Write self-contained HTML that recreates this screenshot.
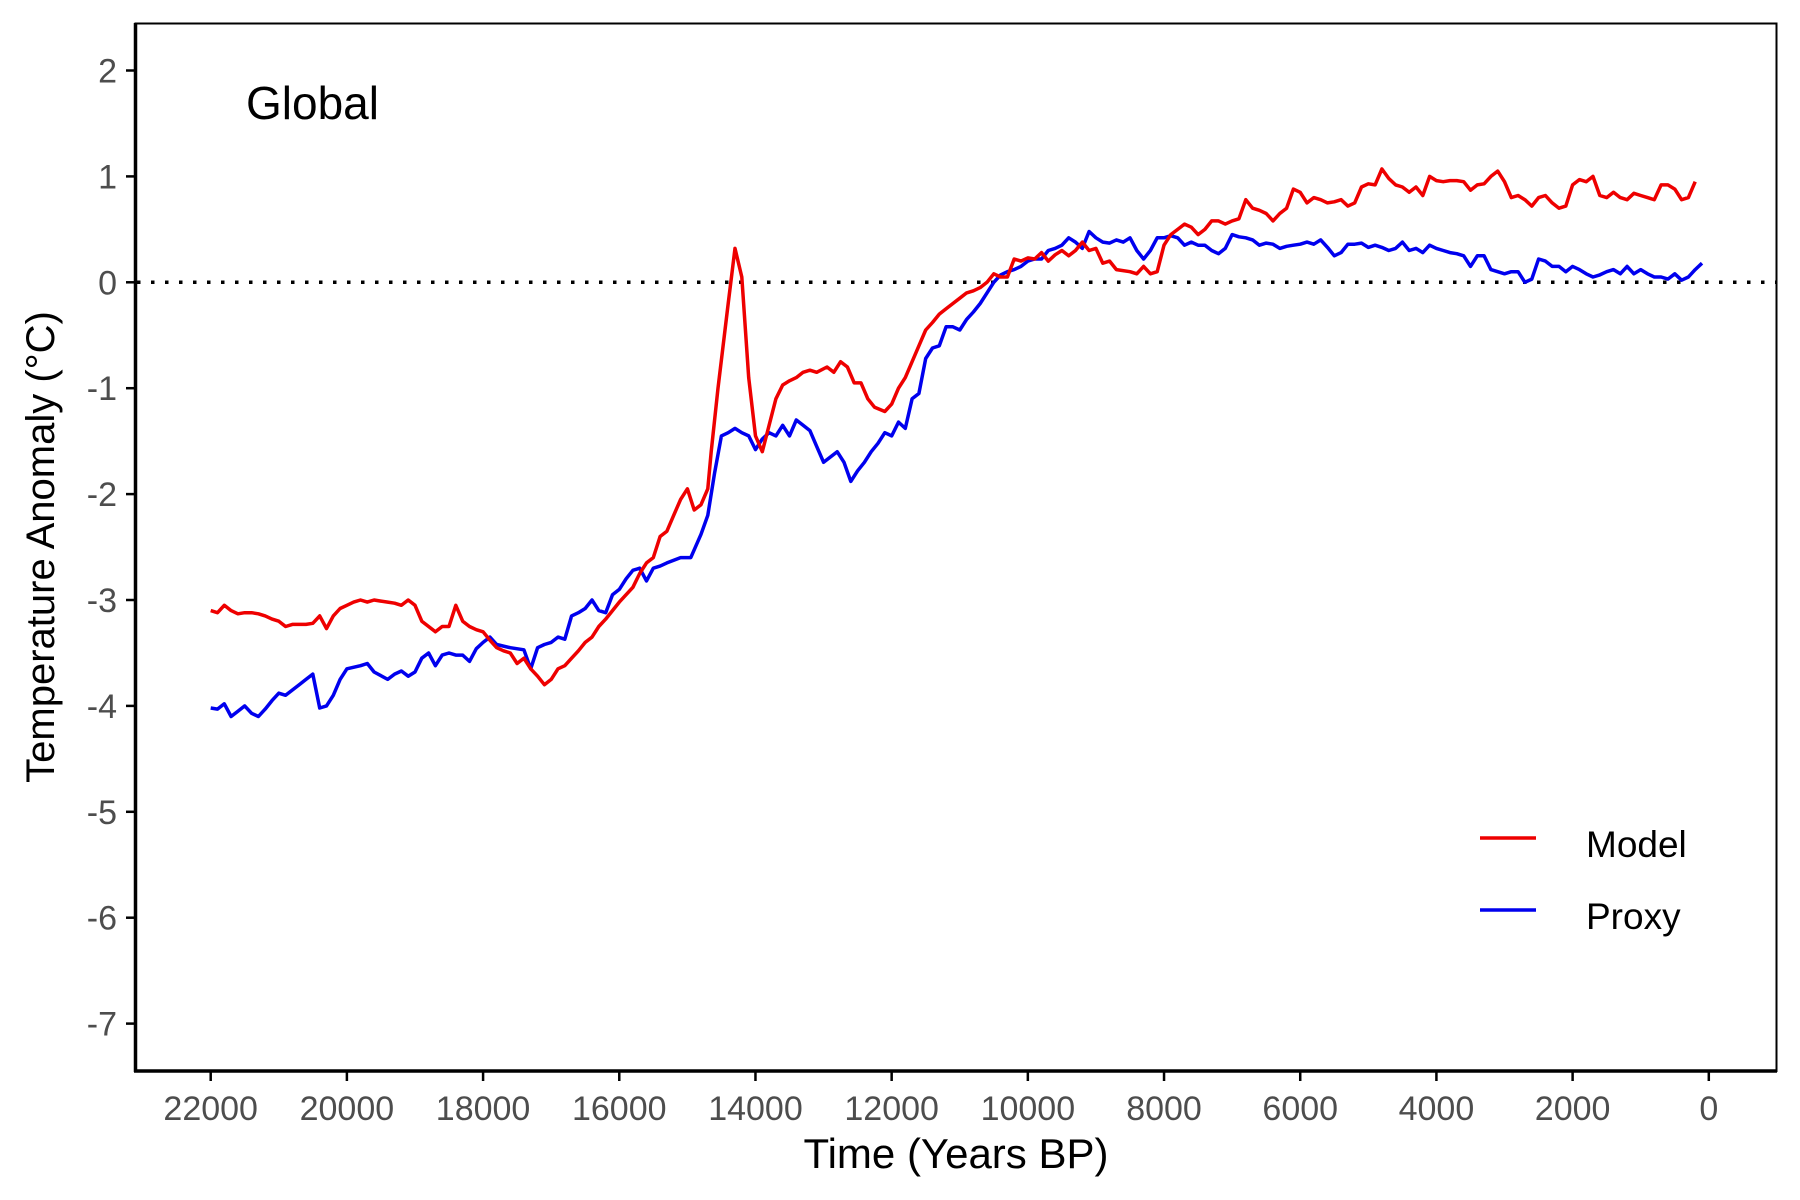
<!DOCTYPE html>
<html><head><meta charset="utf-8">
<style>
html,body{margin:0;padding:0;background:#fff;}
svg{display:block;font-family:"Liberation Sans",Arial,sans-serif;}
</style></head>
<body>
<svg id="chart" width="1800" height="1200" viewBox="0 0 1800 1200" xmlns="http://www.w3.org/2000/svg">
<rect x="0" y="0" width="1800" height="1200" fill="#fff"/>
<g id="grid"></g>
<g id="series"></g>
<rect x="135.5" y="23.5" width="1641" height="1047.5" fill="none" stroke="#000" stroke-width="2"/>
<line x1="135.5" y1="23" x2="135.5" y2="1072" stroke="#000" stroke-width="3.5"/>
<line x1="134" y1="1071" x2="1777" y2="1071" stroke="#000" stroke-width="3.5"/>
<g id="axes"></g>
<text x="246" y="119" font-size="46" fill="#000">Global</text>
<text transform="translate(54,547) rotate(-90)" text-anchor="middle" font-size="40" fill="#000">Temperature Anomaly (°C)</text>
<text x="956" y="1168" text-anchor="middle" font-size="42" fill="#000">Time (Years BP)</text>
<g>
<line x1="1480" y1="838" x2="1536" y2="838" stroke="#ee0000" stroke-width="3.5"/>
<text x="1586" y="857" font-size="37" fill="#000">Model</text>
<line x1="1480" y1="910" x2="1536" y2="910" stroke="#0000ee" stroke-width="3.5"/>
<text x="1586" y="929" font-size="37" fill="#000">Proxy</text>
</g>
</svg>
<script>
const xTicks = [22000,20000,18000,16000,14000,12000,10000,8000,6000,4000,2000,0];
const yTicks = [2,1,0,-1,-2,-3,-4,-5,-6,-7];
const modelYears = [22000,21900,21800,21700,21600,21500,21400,21300,21200,21100,21000,20900,20800,20700,20600,20500,20400,20300,20200,20100,20000,19900,19800,19700,19600,19500,19400,19300,19200,19100,19000,18900,18800,18700,18600,18500,18400,18300,18200,18100,18000,17900,17800,17700,17600,17500,17400,17300,17200,17100,17000,16900,16800,16700,16600,16500,16400,16300,16200,16100,16000,15900,15800,15700,15600,15500,15400,15300,15200,15100,15000,14900,14800,14700,14650,14550,14400,14300,14200,14100,14000,13900,13800,13700,13600,13500,13400,13300,13200,13100,12950,12850,12750,12650,12550,12450,12350,12250,12100,12000,11900,11800,11700,11600,11500,11400,11300,11200,11100,11000,10900,10800,10700,10600,10500,10400,10300,10200,10100,10000,9900,9800,9700,9600,9500,9400,9300,9200,9100,9000,8900,8800,8700,8500,8400,8300,8200,8100,8000,7900,7800,7700,7600,7500,7400,7300,7200,7100,7000,6900,6800,6700,6600,6500,6400,6300,6200,6100,6000,5900,5800,5700,5600,5500,5400,5300,5200,5100,5000,4900,4800,4700,4600,4500,4400,4300,4200,4100,4000,3900,3800,3700,3600,3500,3400,3300,3200,3100,3000,2900,2800,2700,2600,2500,2400,2300,2200,2100,2000,1900,1800,1700,1600,1500,1400,1300,1200,1100,1000,900,800,700,600,500,400,300,200,100];
const modelValues = [-3.1,-3.12,-3.05,-3.1,-3.13,-3.12,-3.12,-3.13,-3.15,-3.18,-3.2,-3.25,-3.23,-3.23,-3.23,-3.22,-3.15,-3.27,-3.15,-3.08,-3.05,-3.02,-3.0,-3.02,-3.0,-3.01,-3.02,-3.03,-3.05,-3.0,-3.05,-3.2,-3.25,-3.3,-3.25,-3.25,-3.05,-3.2,-3.25,-3.28,-3.3,-3.38,-3.45,-3.48,-3.5,-3.6,-3.55,-3.65,-3.72,-3.8,-3.75,-3.65,-3.62,-3.55,-3.48,-3.4,-3.35,-3.25,-3.18,-3.1,-3.02,-2.95,-2.88,-2.75,-2.65,-2.6,-2.4,-2.35,-2.2,-2.05,-1.95,-2.15,-2.1,-1.95,-1.6,-1.0,-0.2,0.32,0.05,-0.9,-1.45,-1.6,-1.35,-1.1,-0.97,-0.93,-0.9,-0.85,-0.83,-0.85,-0.8,-0.85,-0.75,-0.8,-0.95,-0.95,-1.1,-1.18,-1.22,-1.15,-1.0,-0.9,-0.75,-0.6,-0.45,-0.38,-0.3,-0.25,-0.2,-0.15,-0.1,-0.08,-0.05,0.0,0.08,0.05,0.05,0.22,0.2,0.23,0.22,0.28,0.2,0.26,0.3,0.25,0.3,0.38,0.3,0.32,0.18,0.2,0.12,0.1,0.08,0.15,0.08,0.1,0.35,0.45,0.5,0.55,0.52,0.45,0.5,0.58,0.58,0.55,0.58,0.6,0.78,0.7,0.68,0.65,0.58,0.65,0.7,0.88,0.85,0.75,0.8,0.78,0.75,0.76,0.78,0.72,0.75,0.9,0.93,0.92,1.07,0.98,0.92,0.9,0.85,0.9,0.82,1.0,0.96,0.95,0.96,0.96,0.95,0.87,0.92,0.93,1.0,1.05,0.95,0.8,0.82,0.78,0.72,0.8,0.82,0.75,0.7,0.72,0.92,0.97,0.95,1.0,0.82,0.8,0.85,0.8,0.78,0.84,0.82,0.8,0.78,0.92,0.92,0.88,0.78,0.8,0.95];
const proxyYears = [22000,21900,21800,21700,21600,21500,21400,21300,21200,21100,21000,20900,20800,20700,20600,20500,20400,20300,20200,20100,20000,19800,19700,19600,19400,19300,19200,19100,19000,18900,18800,18700,18600,18500,18400,18300,18200,18100,18000,17900,17800,17600,17400,17300,17200,17100,17000,16900,16800,16700,16600,16500,16400,16300,16200,16100,16000,15900,15800,15700,15600,15500,15400,15300,15100,14950,14800,14700,14600,14500,14400,14300,14200,14100,14000,13900,13800,13700,13600,13500,13400,13300,13200,13100,13000,12900,12800,12700,12600,12500,12400,12300,12200,12100,12000,11900,11800,11700,11600,11500,11400,11300,11200,11100,11000,10900,10800,10700,10600,10500,10400,10300,10200,10100,10000,9900,9800,9700,9600,9500,9400,9300,9200,9100,9000,8900,8800,8700,8600,8500,8400,8300,8200,8100,8000,7900,7800,7700,7600,7500,7400,7300,7200,7100,7000,6900,6800,6700,6600,6500,6400,6300,6200,6100,6000,5900,5800,5700,5600,5500,5400,5300,5200,5100,5000,4900,4800,4700,4600,4500,4400,4300,4200,4100,4000,3900,3800,3700,3600,3500,3400,3300,3200,3100,3000,2900,2800,2700,2600,2500,2400,2300,2200,2100,2000,1900,1800,1700,1600,1500,1400,1300,1200,1100,1000,900,800,700,600,500,400,300,200,100];
const proxyValues = [-4.02,-4.03,-3.98,-4.1,-4.05,-4.0,-4.07,-4.1,-4.03,-3.95,-3.88,-3.9,-3.85,-3.8,-3.75,-3.7,-4.02,-4.0,-3.9,-3.75,-3.65,-3.62,-3.6,-3.68,-3.75,-3.7,-3.67,-3.72,-3.68,-3.55,-3.5,-3.62,-3.52,-3.5,-3.52,-3.52,-3.58,-3.46,-3.4,-3.35,-3.42,-3.45,-3.47,-3.65,-3.45,-3.42,-3.4,-3.35,-3.37,-3.15,-3.12,-3.08,-3.0,-3.1,-3.12,-2.95,-2.9,-2.8,-2.72,-2.7,-2.82,-2.7,-2.68,-2.65,-2.6,-2.6,-2.38,-2.2,-1.8,-1.45,-1.42,-1.38,-1.42,-1.45,-1.58,-1.48,-1.42,-1.45,-1.35,-1.45,-1.3,-1.35,-1.4,-1.55,-1.7,-1.65,-1.6,-1.7,-1.88,-1.78,-1.7,-1.6,-1.52,-1.42,-1.45,-1.32,-1.38,-1.1,-1.05,-0.72,-0.62,-0.6,-0.42,-0.42,-0.45,-0.35,-0.28,-0.2,-0.1,0.0,0.07,0.1,0.12,0.15,0.2,0.22,0.22,0.3,0.32,0.35,0.42,0.38,0.32,0.48,0.42,0.38,0.37,0.4,0.38,0.42,0.3,0.22,0.3,0.42,0.42,0.44,0.42,0.35,0.38,0.35,0.35,0.3,0.27,0.32,0.45,0.43,0.42,0.4,0.35,0.37,0.36,0.32,0.34,0.35,0.36,0.38,0.36,0.4,0.33,0.25,0.28,0.36,0.36,0.37,0.33,0.35,0.33,0.3,0.32,0.38,0.3,0.32,0.28,0.35,0.32,0.3,0.28,0.27,0.25,0.15,0.25,0.25,0.12,0.1,0.08,0.1,0.1,0.0,0.03,0.22,0.2,0.15,0.15,0.1,0.15,0.12,0.08,0.05,0.07,0.1,0.12,0.08,0.15,0.08,0.12,0.08,0.05,0.05,0.03,0.08,0.02,0.05,0.12,0.18];

const NS = "http://www.w3.org/2000/svg";
function xScale(t){ return 1708.8 + (210.7 - 1708.8) * t / 22000; }
function yScale(v){ return 282.3 - v * 105.9; }
function mk(tag, attrs, parent){
  const el = document.createElementNS(NS, tag);
  for (const k in attrs) el.setAttribute(k, attrs[k]);
  parent.appendChild(el);
  return el;
}
const axes = document.getElementById('axes');
const series = document.getElementById('series');
const grid = document.getElementById('grid');

const zero = mk('line', {x1:137, x2:1776, y1:yScale(0), y2:yScale(0), stroke:'#000', 'stroke-width':3.5, 'stroke-dasharray':'3.5 10.5'}, grid);



yTicks.forEach(v => {
  const y = yScale(v);
  const tk = mk('line', {x1:126, x2:135, y1:y, y2:y, stroke:'#000', 'stroke-width':2.5}, axes);
  
  
  const lb = mk('text', {x:117, y:y+12, 'text-anchor':'end', 'font-size':34, fill:'#4d4d4d'}, axes);
  lb.textContent = String(v);
  
  
});
xTicks.forEach(t => {
  const x = xScale(t);
  const tk = mk('line', {x1:x, x2:x, y1:1072, y2:1081, stroke:'#000', 'stroke-width':2.5}, axes);
  
  
  const lb = mk('text', {x:x, y:1120, 'text-anchor':'middle', 'font-size':34, fill:'#4d4d4d'}, axes);
  lb.textContent = String(t);
  
  
});

function pathFor(years, vals){
  return years.map((t,i) => (i ? 'L' : 'M') + xScale(t).toFixed(1) + ',' + yScale(vals[i]).toFixed(1)).join('');
}
const proxyLine = mk('path', {d:pathFor(proxyYears, proxyValues), fill:'none', stroke:'#0000ee', 'stroke-width':3.5, 'stroke-linejoin':'round'}, series);


const modelLine = mk('path', {d:pathFor(modelYears, modelValues), fill:'none', stroke:'#ee0000', 'stroke-width':3.5, 'stroke-linejoin':'round'}, series);


</script>
</body></html>
